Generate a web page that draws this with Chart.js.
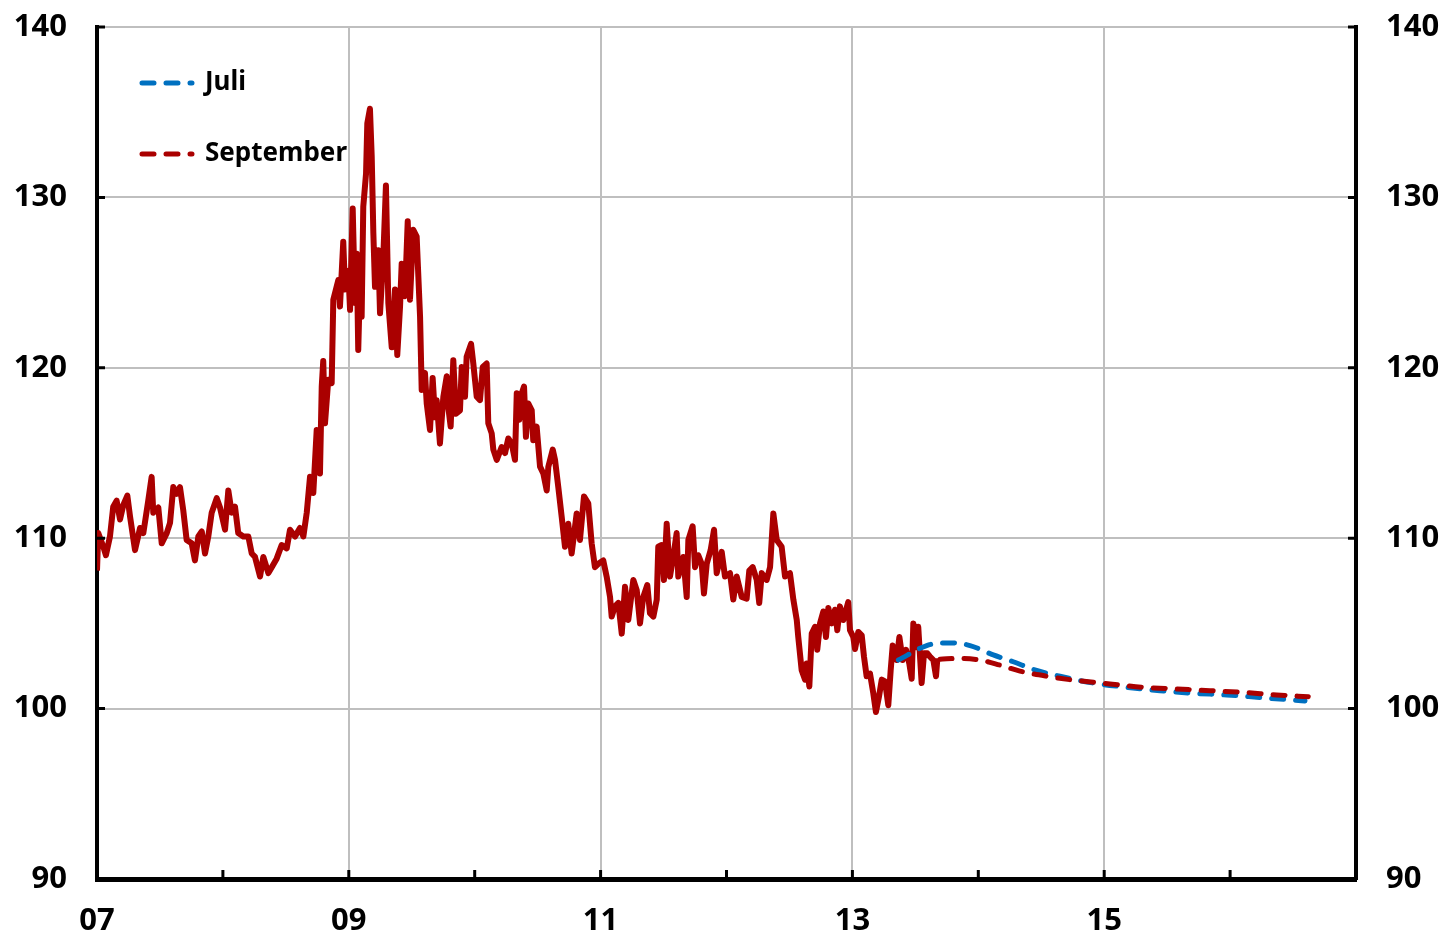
<!DOCTYPE html>
<html>
<head>
<meta charset="utf-8">
<script src="https://cdn.jsdelivr.net/npm/chart.js@4.4.1/dist/chart.umd.min.js"></script>
<style>
    body { margin: 0; background: #fff; }
    #wrap { width: 1445px; height: 932px; }
</style>
</head>
<body>
<div id="wrap"><canvas id="chartKurs"></canvas></div>
<script>
// historische Reihe (Jahr als Dezimalzahl, Indexwert)
const mainYears = [
    2007.000, 2007.010, 2007.050, 2007.071, 2007.103, 2007.129, 2007.156, 2007.183, 2007.209, 2007.241,
    2007.262, 2007.302, 2007.342, 2007.368, 2007.407, 2007.434, 2007.447, 2007.487, 2007.514, 2007.554,
    2007.580, 2007.606, 2007.633, 2007.659, 2007.685, 2007.712, 2007.752, 2007.778, 2007.805, 2007.832,
    2007.858, 2007.884, 2007.911, 2007.951, 2007.977, 2008.017, 2008.043, 2008.070, 2008.096, 2008.122,
    2008.162, 2008.202, 2008.229, 2008.255, 2008.295, 2008.321, 2008.361, 2008.388, 2008.427, 2008.467,
    2008.507, 2008.533, 2008.573, 2008.612, 2008.639, 2008.666, 2008.692, 2008.718, 2008.745, 2008.771,
    2008.785, 2008.797, 2008.811, 2008.837, 2008.864, 2008.877, 2008.917, 2008.930, 2008.956, 2008.970,
    2008.996, 2009.010, 2009.031, 2009.049, 2009.063, 2009.075, 2009.089, 2009.102, 2009.115, 2009.137,
    2009.147, 2009.168, 2009.182, 2009.195, 2009.208, 2009.234, 2009.248, 2009.274, 2009.295, 2009.314,
    2009.341, 2009.367, 2009.385, 2009.407, 2009.420, 2009.446, 2009.468, 2009.486, 2009.512, 2009.539,
    2009.566, 2009.579, 2009.605, 2009.619, 2009.645, 2009.666, 2009.685, 2009.698, 2009.724, 2009.751,
    2009.778, 2009.790, 2009.809, 2009.830, 2009.851, 2009.883, 2009.897, 2009.923, 2009.936, 2009.971,
    2009.989, 2010.016, 2010.042, 2010.064, 2010.095, 2010.108, 2010.135, 2010.148, 2010.175, 2010.214,
    2010.241, 2010.267, 2010.294, 2010.320, 2010.334, 2010.354, 2010.365, 2010.392, 2010.407, 2010.426,
    2010.453, 2010.465, 2010.492, 2010.519, 2010.545, 2010.572, 2010.585, 2010.620, 2010.638, 2010.664,
    2010.691, 2010.717, 2010.743, 2010.770, 2010.810, 2010.836, 2010.868, 2010.902, 2010.929, 2010.955,
    2010.982, 2011.021, 2011.048, 2011.075, 2011.088, 2011.114, 2011.141, 2011.168, 2011.194, 2011.220,
    2011.260, 2011.287, 2011.313, 2011.339, 2011.371, 2011.392, 2011.419, 2011.446, 2011.458, 2011.485,
    2011.503, 2011.525, 2011.551, 2011.577, 2011.604, 2011.617, 2011.657, 2011.684, 2011.697, 2011.731,
    2011.750, 2011.776, 2011.803, 2011.821, 2011.843, 2011.874, 2011.901, 2011.922, 2011.962, 2011.988,
    2012.028, 2012.054, 2012.081, 2012.121, 2012.160, 2012.181, 2012.208, 2012.240, 2012.260, 2012.280,
    2012.319, 2012.346, 2012.372, 2012.399, 2012.438, 2012.465, 2012.504, 2012.531, 2012.558, 2012.570,
    2012.597, 2012.624, 2012.637, 2012.658, 2012.677, 2012.703, 2012.721, 2012.743, 2012.769, 2012.790,
    2012.809, 2012.836, 2012.862, 2012.880, 2012.901, 2012.928, 2012.967, 2012.981, 2013.007, 2013.021,
    2013.047, 2013.074, 2013.092, 2013.113, 2013.140, 2013.166, 2013.187, 2013.211, 2013.233, 2013.259,
    2013.285, 2013.304, 2013.320, 2013.352, 2013.373, 2013.399, 2013.426, 2013.452, 2013.471, 2013.484,
    2013.505, 2013.523, 2013.550, 2013.569, 2013.595, 2013.616, 2013.643, 2013.664, 2013.675
];
const mainValues = [
    108.1, 110.3, 109.5, 109.0, 110.1, 111.85, 112.2, 111.1, 111.95, 112.5,
    111.3, 109.3, 110.6, 110.3, 112.2, 113.6, 111.5, 111.8, 109.7, 110.3,
    110.9, 113.0, 112.6, 113.0, 111.65, 109.9, 109.7, 108.7, 110.1, 110.4,
    109.1, 110.1, 111.5, 112.35, 111.8, 110.5, 112.8, 111.5, 111.85, 110.3,
    110.1, 110.1, 109.1, 108.9, 107.75, 108.9, 107.95, 108.3, 108.8, 109.6,
    109.4, 110.5, 110.1, 110.6, 110.1, 111.5, 113.6, 112.65, 116.35, 113.8,
    118.9, 120.4, 116.75, 119.3, 119.1, 124.0, 125.15, 123.6, 127.4, 124.6,
    125.7, 123.4, 129.35, 123.8, 126.7, 121.05, 125.0, 123.0, 129.45, 131.4,
    134.35, 135.2, 132.4, 127.9, 124.75, 126.9, 123.2, 126.5, 130.7, 123.8,
    121.2, 124.6, 120.75, 123.6, 126.1, 124.2, 128.6, 124.0, 128.1, 127.7,
    123.0, 118.7, 119.7, 117.9, 116.35, 119.4, 117.1, 118.1, 115.55, 118.3,
    119.5, 117.7, 116.55, 120.45, 117.3, 117.5, 120.05, 118.3, 120.65, 121.4,
    120.25, 118.3, 118.1, 120.05, 120.25, 116.75, 116.15, 115.2, 114.6, 115.35,
    115.0, 115.85, 115.55, 114.6, 118.5, 116.95, 118.3, 118.9, 115.95, 117.9,
    117.5, 115.75, 116.55, 114.2, 113.8, 112.8, 114.2, 115.2, 114.6, 113.0,
    111.25, 109.5, 110.85, 109.1, 111.45, 109.9, 112.45, 112.05, 109.7, 108.3,
    108.5, 108.7, 107.75, 106.55, 105.4, 106.0, 106.2, 104.4, 107.15, 105.2,
    107.55, 106.95, 105.0, 106.55, 107.25, 105.6, 105.4, 106.4, 109.5, 109.6,
    107.55, 110.85, 107.75, 108.9, 110.3, 107.75, 108.9, 106.55, 109.9, 110.7,
    108.3, 109.0, 108.5, 106.75, 108.5, 109.3, 110.5, 107.95, 109.2, 107.75,
    107.95, 106.4, 107.75, 106.55, 106.45, 108.1, 108.3, 107.55, 106.2, 107.95,
    107.55, 108.3, 111.45, 109.9, 109.5, 107.75, 107.95, 106.4, 105.2, 104.2,
    102.25, 101.7, 102.65, 101.3, 104.4, 104.8, 103.45, 105.0, 105.7, 104.2,
    105.9, 105.0, 105.8, 104.6, 106.0, 105.2, 106.25, 104.6, 104.2, 103.5,
    104.5, 104.3, 103.05, 101.9, 102.05, 100.9, 99.8, 100.7, 101.7, 101.6,
    100.2, 102.25, 103.7, 102.85, 104.2, 102.85, 103.45, 102.65, 101.75, 105.0,
    103.6, 104.8, 101.5, 103.25, 103.25, 103.05, 102.85, 101.9, 102.95
];

// Prognose Juli
const juliYears = [2013.365, 2013.590, 2013.696, 2013.801, 2013.934, 2014.119, 2014.278, 2014.437, 2014.649,
    2014.913, 2015.179, 2015.443, 2015.708, 2015.973, 2016.237, 2016.502, 2016.595];
const juliValues = [102.85, 103.7, 103.85, 103.85, 103.7, 103.15, 102.75, 102.3, 101.9,
    101.5, 101.25, 101.05, 100.9, 100.8, 100.65, 100.5, 100.45];

// Prognose September
const septYears = [2013.696, 2013.855, 2014.014, 2014.172, 2014.331, 2014.543, 2014.781, 2015.046,
    2015.311, 2015.576, 2015.840, 2016.105, 2016.370, 2016.621];
const septValues = [102.9, 102.95, 102.85, 102.55, 102.2, 101.9, 101.65, 101.45,
    101.25, 101.15, 101.05, 100.95, 100.8, 100.7];

const xLabelYears = [2007, 2009, 2011, 2013, 2015];
const xGridYears = [2009, 2011, 2013, 2015];
const yTicks = [90, 100, 110, 120, 130, 140];

const rot = '#AA0000', blau = '#0070C0', grau = '#BFBFBF';
const fontBold = { family: "'Noto Sans', sans-serif", size: 31, weight: 'bold' };

const toPoints = (xs, ys) => xs.map((x, i) => ({ x: x, y: ys[i] }));

// Ticks nach innen
const innenTicks = {
    id: 'innenTicks',
    afterDraw(chart) {
        const { ctx, chartArea, scales } = chart;
        ctx.save();
        ctx.strokeStyle = '#000';
        ctx.lineWidth = 3;
        ctx.beginPath();
        for (let yr = 2008; yr <= 2016; yr++) {
            const px = scales.x.getPixelForValue(yr);
            ctx.moveTo(px, chartArea.bottom);
            ctx.lineTo(px, chartArea.bottom - 9);
        }
        yTicks.forEach(v => {
            if (v === 90) return;
            const py = scales.y.getPixelForValue(v);
            ctx.moveTo(chartArea.left, py);
            ctx.lineTo(chartArea.left + 8, py);
            ctx.moveTo(chartArea.right, py);
            ctx.lineTo(chartArea.right - 8, py);
        });
        ctx.stroke();
        ctx.restore();
    }
};

// y-Achsen: feste Breite, Label-Ueberhang nicht als Rand zaehlen
const fixY = w => s => {
    s.width = w;
    s.paddingTop = 10;
    s.paddingBottom = 10;
};

// Legende: gestrichelte Linie wie im Datensatz
const legendLabels = chart => {
    const items = Chart.defaults.plugins.legend.labels.generateLabels(chart);
    return items
        .filter(item => item.datasetIndex !== 0)
        .sort((a, b) => a.datasetIndex - b.datasetIndex)
        .map(item => {
            const ds = chart.data.datasets[item.datasetIndex];
            item.lineDash = ds.borderDash;
            item.lineCap = 'round';
            item.strokeStyle = ds.borderColor;
            item.lineWidth = ds.borderWidth;
            return item;
        });
};

const ctx = document.getElementById('chartKurs');
const chartKurs = new Chart(ctx, {
    type: 'line',
    data: {
        datasets: [
            {
                label: 'Kurs',
                data: toPoints(mainYears, mainValues),
                borderColor: rot,
                backgroundColor: rot,
                borderWidth: 6,
                borderJoinStyle: 'round',
                pointRadius: 0,
                order: 3,
            },
            {
                label: 'Juli',
                data: toPoints(juliYears, juliValues),
                borderColor: blau,
                backgroundColor: blau,
                borderWidth: 5,
                borderDash: [12, 12],
                borderCapStyle: 'round',
                cubicInterpolationMode: 'monotone',
                pointRadius: 0,
                order: 2,
            },
            {
                label: 'September',
                data: toPoints(septYears, septValues),
                borderColor: rot,
                backgroundColor: rot,
                borderWidth: 5,
                borderDash: [12, 12],
                borderCapStyle: 'round',
                cubicInterpolationMode: 'monotone',
                pointRadius: 0,
                order: 1,
            },
        ],
    },
    options: {
        responsive: true,
        maintainAspectRatio: false,
        animation: false,
        layout: { padding: { top: 27, left: 0, right: 0, bottom: 0 } },
        plugins: {
            tooltip: { enabled: false },
            legend: {
                position: 'chartArea',
                align: 'start',
                title: { display: true, text: '', font: { size: 10 }, padding: { top: 13, bottom: 0 } },
                labels: {
                    generateLabels: legendLabels,
                    usePointStyle: true,
                    pointStyle: 'line',
                    pointStyleWidth: 50,
                    padding: 45,
                    color: '#000',
                    font: { family: "'Noto Sans', sans-serif", size: 26, weight: 'bold' },
                },
            },
        },
        scales: {
            x: {
                type: 'linear',
                min: 2007,
                max: 2017,
                afterFit: s => { s.height = 53; },
                ticks: {
                    stepSize: 1,
                    autoSkip: false,
                    maxRotation: 0,
                    padding: 24,
                    color: '#000',
                    font: fontBold,
                    callback: v => xLabelYears.includes(v) ? String(v).slice(2) : '',
                },
                grid: {
                    drawTicks: false,
                    lineWidth: 2,
                    color: c => xGridYears.includes(c.tick.value) ? grau : 'rgba(0,0,0,0)',
                },
                border: { color: '#000', width: 5 },
            },
            y: {
                position: 'left',
                min: 90,
                max: 140,
                afterFit: fixY(97),
                ticks: { stepSize: 10, padding: 30, color: '#000', font: fontBold },
                grid: {
                    drawTicks: false,
                    lineWidth: 2,
                    color: c => c.tick.value === 90 ? 'rgba(0,0,0,0)' : grau,
                },
                border: { color: '#000', width: 4 },
            },
            y2: {
                position: 'right',
                min: 90,
                max: 140,
                afterFit: fixY(89),
                ticks: { stepSize: 10, padding: 30, color: '#000', font: fontBold },
                grid: { display: false, drawTicks: false },
                border: { color: '#000', width: 4 },
            },
        },
    },
    plugins: [innenTicks],
});
</script>
</body>
</html>
